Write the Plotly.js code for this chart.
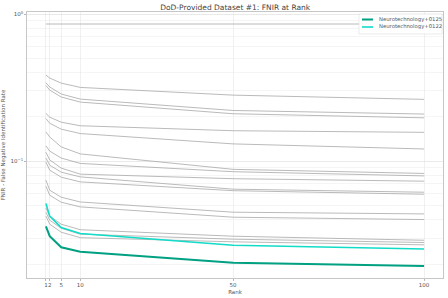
<!DOCTYPE html>
<html>
<head>
<meta charset="utf-8">
<script src="https://cdn.plot.ly/plotly-3.0.1.min.js"></script>
<style>html,body{margin:0;padding:0;background:#fff;}#chart{width:448px;height:298px;}</style>
</head>
<body>
<div id="chart"></div>
<script>
const ranks = [1, 2, 5, 10, 50, 100];

const grayNames = ["Algorithm A","Algorithm B","Algorithm C","Algorithm D","Algorithm E","Algorithm F","Algorithm G","Algorithm H","Algorithm I","Algorithm J","Algorithm K","Algorithm L","Algorithm M","Algorithm N","Algorithm O","Algorithm P"];
const gray01 = [0.855, 0.855, 0.855, 0.855, 0.855, 0.855];
const gray02 = [0.385, 0.367, 0.339, 0.317, 0.281, 0.263];
const gray03 = [0.341, 0.319, 0.286, 0.264, 0.221, 0.209];
const gray04 = [0.327, 0.304, 0.273, 0.252, 0.210, 0.197];
const gray05 = [0.211, 0.199, 0.184, 0.174, 0.161, 0.157];
const gray06 = [0.195, 0.181, 0.165, 0.154, 0.131, 0.121];
const gray07 = [0.158, 0.146, 0.125, 0.112, 0.088, 0.0825];
const gray08 = [0.127, 0.117, 0.105, 0.0965, 0.0848, 0.0794];
const gray09 = [0.115, 0.102, 0.0897, 0.0816, 0.0760, 0.0731];
const gray10 = [0.105, 0.0939, 0.0842, 0.0782, 0.0645, 0.0615];
const gray11 = [0.0985, 0.0869, 0.0778, 0.0723, 0.0630, 0.0596];
const gray12 = [0.0743, 0.0635, 0.0569, 0.0528, 0.0450, 0.0438];
const gray13 = [0.0676, 0.0587, 0.0526, 0.0489, 0.0416, 0.0401];
const gray14 = [0.0479, 0.0423, 0.0373, 0.0342, 0.0309, 0.0290];
const gray15 = [0.0450, 0.0397, 0.0350, 0.0319, 0.0295, 0.0280];
const gray16 = [0.0423, 0.0373, 0.0329, 0.0302, 0.0283, 0.0270];
const grayValues = [gray01, gray02, gray03, gray04, gray05, gray06, gray07, gray08, gray09, gray10, gray11, gray12, gray13, gray14, gray15, gray16];

const neuro0125 = [0.0361, 0.0309, 0.0260, 0.0242, 0.0204, 0.0194];
const neuro0122 = [0.0516, 0.0423, 0.0354, 0.0322, 0.0268, 0.0253];

const highlightNames = ["Neurotechnology+0125", "Neurotechnology+0122"];
const highlightValues = [neuro0125, neuro0122];
const highlightColors = ["#00a082", "#10dcc8"];
const highlightWidths = [2, 1.6];

const xTicks = [1, 2, 5, 10, 50, 100];
const yTicks = [0.1, 1];
const yTickText = ["10<sup>−1</sup>", "10<sup>0</sup>"];

const traces = [];
grayValues.forEach((vals, i) => {
  traces.push({
    x: ranks, y: vals, type: "scatter", mode: "lines", name: grayNames[i],
    showlegend: false, hoverinfo: "skip",
    line: {color: "#a8a8a8", width: 0.8}
  });
});
highlightValues.forEach((vals, i) => {
  traces.push({
    x: ranks, y: vals, type: "scatter", mode: "lines", name: highlightNames[i],
    showlegend: false,
    line: {color: highlightColors[i], width: highlightWidths[i]}
  });
});

// Compact legend (paper coordinates) built from the highlight series
const plotTop = 12, plotH = 298 - 12 - 20, plotL = 27, plotW = 448 - 27 - 5;
const px2x = p => (p - plotL) / plotW;
const py2y = p => 1 - (p - plotTop) / plotH;
const shapes = [{
  type: "rect", xref: "paper", yref: "paper",
  x0: px2x(359), x1: px2x(442), y0: py2y(34), y1: py2y(14),
  line: {color: "#dddddd", width: 0.6}, fillcolor: "rgba(255,255,255,0.9)", layer: "above"
}];
const annotations = [];
highlightNames.forEach((n, i) => {
  const yy = 19.5 + i * 7.5;
  shapes.push({
    type: "line", xref: "paper", yref: "paper",
    x0: px2x(362), x1: px2x(373), y0: py2y(yy), y1: py2y(yy),
    line: {color: highlightColors[i], width: highlightWidths[i]}, layer: "above"
  });
  annotations.push({
    xref: "paper", yref: "paper", x: px2x(377), y: py2y(yy),
    xanchor: "left", yanchor: "middle", showarrow: false,
    text: n, font: {size: 5.3, color: "#555"}
  });
});

const layout = {
  width: 448, height: 298,
  margin: {l: 27, r: 5, t: 12, b: 20, pad: 0},
  paper_bgcolor: "#ffffff", plot_bgcolor: "#ffffff",
  font: {family: "DejaVu Sans, sans-serif", size: 5.5, color: "#555"},
  title: {text: "DoD-Provided Dataset #1: FNIR at Rank", font: {size: 7.5, color: "#444"}, x: 0.525, xanchor: "center", y: 0.985, yanchor: "top"},
  showlegend: false,
  shapes: shapes,
  annotations: annotations,
  xaxis: {
    type: "linear", range: [-3.95, 104.95],
    tickmode: "array", tickvals: xTicks, ticktext: xTicks.map(String), tickangle: 0,
    showgrid: true, gridcolor: "#e6e6e6", gridwidth: 0.6,
    zeroline: false, showline: true, linecolor: "#b8b8b8", linewidth: 0.8, mirror: true,
    ticks: "outside", ticklen: 2, tickcolor: "#b8b8b8", tickfont: {size: 5.5, color: "#555"},
    title: {text: "Rank", font: {size: 5.5, color: "#555"}, standoff: 2},
    automargin: false
  },
  yaxis: {
    type: "log", range: [-1.794, 0.0136],
    tickmode: "array", tickvals: yTicks, ticktext: yTickText,
    showgrid: true, gridcolor: "#e2e2e2", gridwidth: 0.6,
    minor: {dtick: "D1", showgrid: true, gridcolor: "#efefef", gridwidth: 0.6, ticks: ""},
    zeroline: false, showline: true, linecolor: "#b8b8b8", linewidth: 0.8, mirror: true,
    ticks: "outside", ticklen: 2, tickcolor: "#b8b8b8", tickfont: {size: 5.5, color: "#555"},
    title: {text: "FNIR - False Negative Identification Rate", font: {size: 5.5, color: "#555"}, standoff: 4},
    automargin: false
  }
};

Plotly.newPlot("chart", traces, layout, {displayModeBar: false, staticPlot: true});
</script>
</body>
</html>
